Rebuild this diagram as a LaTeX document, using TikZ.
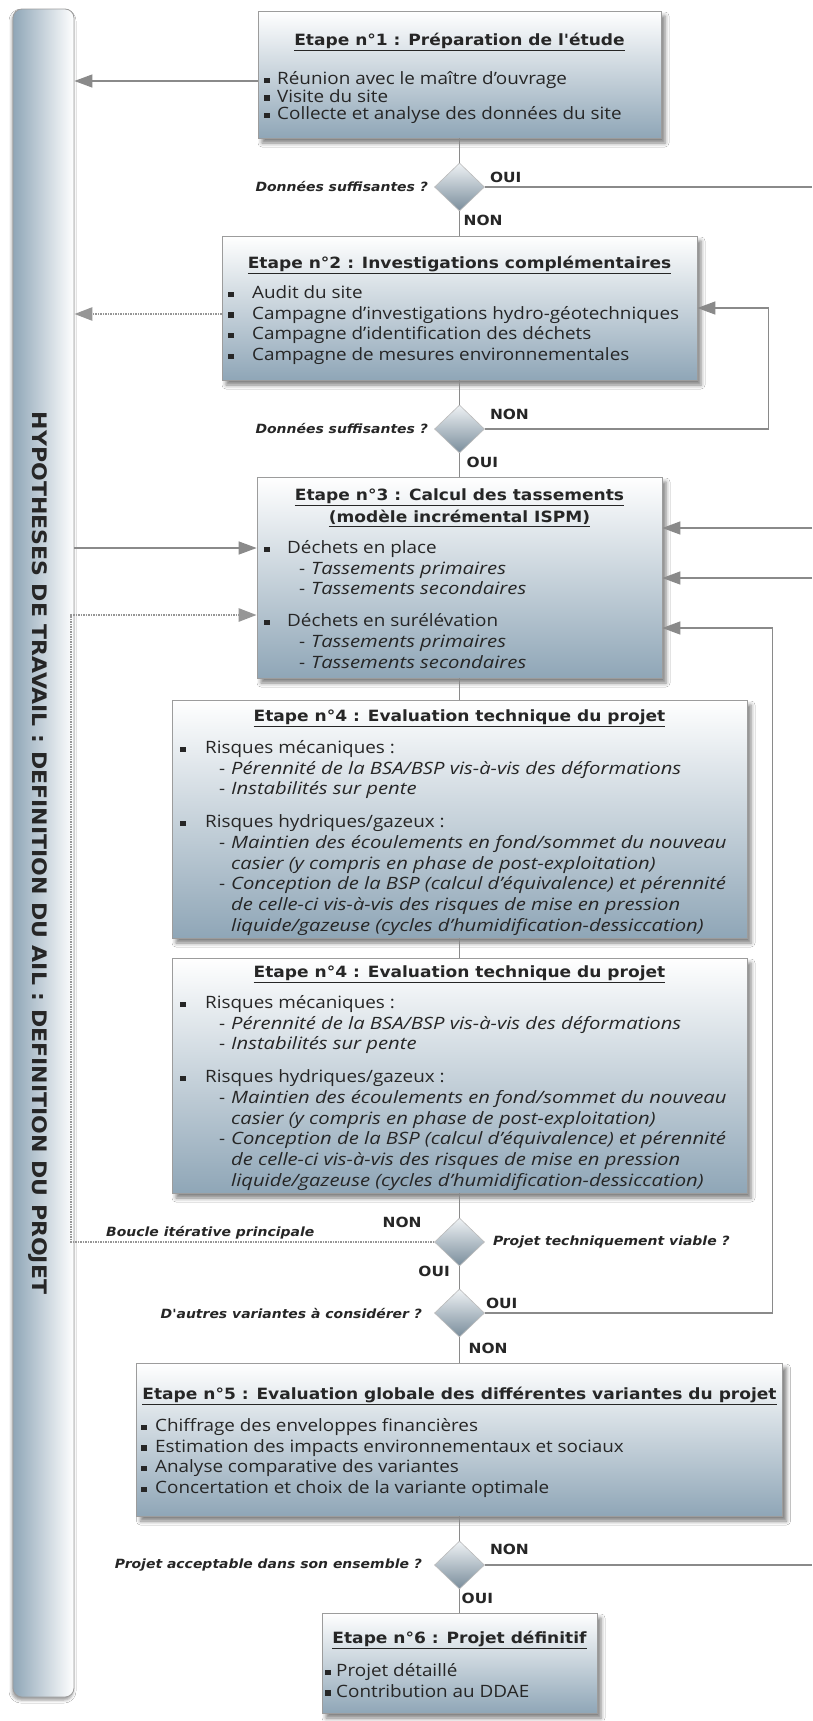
\documentclass[tikz,border=0pt]{standalone}
\usepackage{fontspec}
\setmainfont{Open Sans}[UprightFeatures={FakeStretch=1.11}, ItalicFeatures={FakeStretch=1.19}]
\newfontfamily\titrefont{DejaVu Sans}[FakeStretch=1.1, ItalicFont={DejaVu Sans Oblique}, BoldItalicFont={DejaVu Sans Bold Oblique}]
\usetikzlibrary{shapes.geometric, arrows.meta, positioning, calc, shadows.blur}
\definecolor{cbleu}{HTML}{8FA6B7}
\definecolor{cgris}{HTML}{8A8A8A}
\definecolor{cbord}{HTML}{9C9C9C}
\definecolor{ctexte}{HTML}{262626}
\newcommand{\puce}[1][13pt]{\makebox[#1][l]{\rule[1.5pt]{5.5pt}{5.5pt}}}
\newcommand{\tiret}[1][39pt]{\hspace*{#1}\makebox[12pt][l]{-}}
\newcommand{\risques}{\puce[25pt]Risques mécaniques :\\
  \tiret\textit{Pérennité de la BSA/BSP vis-à-vis des déformations}\\
  \tiret\textit{Instabilités sur pente}\\[12pt]
  \puce[25pt]Risques hydriques/gazeux :\\
  \tiret\textit{Maintien des écoulements en fond/sommet du nouveau}\\
  \hspace*{51pt}\textit{casier (y compris en phase de post-exploitation)}\\
  \tiret\textit{Conception de la BSP (calcul d'équivalence) et pérennité}\\
  \hspace*{51pt}\textit{de celle-ci vis-à-vis des risques de mise en pression}\\
  \hspace*{51pt}\textit{liquide/gazeuse (cycles d'humidification-dessiccation)}}
\tikzset{
  etape/.style={rectangle, draw=cbord, line width=0.7pt, top color=white, bottom color=cbleu, inner sep=0pt,
                blur shadow={shadow xshift=4pt, shadow yshift=-5pt, shadow blur radius=4pt, shadow opacity=50}},
  barre/.style={rectangle, rounded corners=9pt, draw=cbord, line width=0.8pt, left color=cbleu, right color=white,
                minimum width=61pt, minimum height=1688pt, inner sep=0pt,
                blur shadow={shadow xshift=-1pt, shadow yshift=-3pt, shadow blur radius=3pt, shadow opacity=40}},
  losange/.style={diamond, draw=cbord!70, line width=0.6pt, top color=white!85!cbleu, bottom color=cbleu!85!black,
                  minimum width=50pt, minimum height=48pt, inner sep=0pt},
  titre/.style={font=\titrefont\bfseries\fontsize{15.5}{22}\selectfont, text=ctexte, inner sep=0pt, align=center, anchor=base},
  liste/.style={font=\fontsize{17}{20.7}\selectfont, text=ctexte, inner sep=0pt, align=left, anchor=base west},
  bandeau/.style={font=\titrefont\bfseries\fontsize{20}{22}\selectfont, text=ctexte, inner sep=0pt},
  question/.style={font=\titrefont\bfseries\itshape\fontsize{12.7}{14}\selectfont, text=ctexte, inner sep=0pt},
  reponse/.style={font=\titrefont\bfseries\fontsize{14}{16}\selectfont, text=ctexte, inner sep=0pt},
  lien/.style={draw=cgris, line width=1.3pt},
  fleche/.style={lien, -{Triangle[length=18pt, width=13pt]}},
  pointille/.style={draw=cgris!90, line width=2.6pt, dash pattern=on 1.5pt off 1pt},
}

\begin{document}
\begin{tikzpicture}[x=1pt, y=-1pt]
  \fill[white] (0,0) rectangle (812,1721);
  \useasboundingbox (0,0) rectangle (812,1721);

  % bandeau vertical
  \node[barre] (barre) at (43.5,853) {};
  \node[bandeau, rotate=-90] (hypo) at ([xshift=-6pt]barre.center) {HYPOTHESES DE TRAVAIL : DEFINITION DU AIL : DEFINITION DU PROJET};

  % etapes (listes ancrees sur leur derniere ligne)
  \node[etape, minimum width=403pt, minimum height=127pt] (e1) at (459.5,74.5) {};
  \node[titre] (e1t) at (459.5,45.5) {\underline{Etape n°1 : Préparation de l'étude}};
  \node[liste, font=\fontsize{17}{17.5}\selectfont] (e1l) at (264,119.5) {\puce Réunion avec le maître d’ouvrage\\
    \puce Visite du site\\ \puce Collecte et analyse des données du site};

  \node[etape, minimum width=475pt, minimum height=144pt] (e2) at (459.5,308) {};
  \node[titre] (e2t) at (459.5,268.5) {\underline{Etape n°2 : Investigations complémentaires}};
  \node[liste] (e2l) at (228,360.6) {\puce[24pt]Audit du site\\
    \puce[24pt]Campagne d’investigations hydro-géotechniques\\
    \puce[24pt]Campagne d'identification des déchets\\
    \puce[24pt]Campagne de mesures environnementales};

  \node[etape, minimum width=405pt, minimum height=201pt] (e3) at (459.5,577.5) {};
  \node[titre] (e3t) at (459.5,522.5) {\underline{Etape n°3 : Calcul des tassements}\\\underline{(modèle incrémental ISPM)}};
  \node[liste] (e3l) at (264,668) {\puce[23pt]Déchets en place\\
    \tiret[35pt]\textit{Tassements primaires}\\ \tiret[35pt]\textit{Tassements secondaires}\\[11pt]
    \puce[23pt]Déchets en surélévation\\
    \tiret[35pt]\textit{Tassements primaires}\\ \tiret[35pt]\textit{Tassements secondaires}};

  \node[etape, minimum width=575pt, minimum height=238pt] (e4a) at (459.5,819) {};
  \node[titre] (e4at) at (459.5,721.5) {\underline{Etape n°4 : Evaluation technique du projet}};
  \node[liste] (e4al) at (180,931.1) {\risques};

  \node[etape, minimum width=575pt, minimum height=235pt] (e4b) at (459.5,1075.5) {};
  \node[titre] (e4bt) at (459.5,977.5) {\underline{Etape n°4 : Evaluation technique du projet}};
  \node[liste] (e4bl) at (180,1186.1) {\risques};

  \node[etape, minimum width=646pt, minimum height=153pt] (e5) at (459.5,1439.5) {};
  \node[titre] (e5t) at (459.5,1399.5) {\underline{Etape n°5 : Evaluation globale des différentes variantes du projet}};
  \node[liste] (e5l) at (141,1493.6) {\puce[14pt]Chiffrage des enveloppes financières\\
    \puce[14pt]Estimation des impacts environnementaux et sociaux\\
    \puce[14pt]Analyse comparative des variantes\\
    \puce[14pt]Concertation et choix de la variante optimale};

  \node[etape, minimum width=275pt, minimum height=100pt] (e6) at (459.5,1663) {};
  \node[titre] (e6t) at (459.5,1643.5) {\underline{Etape n°6 : Projet définitif}};
  \node[liste] (e6l) at (325,1697.2) {\puce[11pt]Projet détaillé\\ \puce[11pt]Contribution au DDAE};

  % tests
  \node[losange] (d1) at (459.5,187) {};
  \node[losange] (d2) at (459.5,429) {};
  \node[losange] (d3) at (459.5,1242) {};
  \node[losange] (d4) at (459.5,1313) {};
  \node[losange] (d5) at (459.5,1565) {};

  \node[question, left=6pt of d1.west] (q1) {Données suffisantes ?};
  \node[reponse, above right=4pt and 5pt of d1.east] (oui1) {OUI};
  \node[reponse, below right=4pt and 4pt of d1.south] (non1) {NON};
  \node[question, left=6pt of d2.west] (q2) {Données suffisantes ?};
  \node[reponse, above right=9.5pt and 5pt of d2.east] (non2) {NON};
  \node[reponse, below right=4pt and 7pt of d2.south] (oui2) {OUI};
  \node[reponse, above left=14.5pt and 12.5pt of d3.west] (non3) {NON};
  \node[question, right=8pt of d3.east] (q3) {Projet techniquement viable ?};
  \node[reponse, below left=0pt and 9.5pt of d3.south] (oui3) {OUI};
  \node[reponse, above right=4.5pt and 1pt of d4.east] (oui4) {OUI};
  \node[question, left=12pt of d4.west] (q4) {D'autres variantes à considérer ?};
  \node[reponse, below right=6pt and 9pt of d4.south] (non4) {NON};
  \node[question, left=12pt of d5.west] (q5) {Projet acceptable dans son ensemble ?};
  \node[reponse, above right=10pt and 5pt of d5.east] (non5) {NON};
  \node[reponse, below right=4pt and 2pt of d5.south] (oui5) {OUI};

  % axe principal
  \draw[lien] (e1) -- (d1);
  \draw[lien] (d1) -- (e2);
  \draw[lien] (e2) -- (d2);
  \draw[lien] (d2) -- (e3);
  \draw[lien] (e3) -- (e4a);
  \draw[lien] (e4a) -- (e4b);
  \draw[lien] (e4b) -- (d3);
  \draw[lien] (d3) -- (d4);
  \draw[lien] (d4) -- (e5);
  \draw[lien] (e5) -- (d5);
  \draw[lien] (d5) -- (e6);

  % liaisons avec le bandeau
  \draw[fleche] (e1.west |- 0,81) -- (barre.east |- 0,81);
  \draw[fleche, pointille] (e2.west |- 0,314) -- (barre.east |- 0,314);
  \draw[fleche] (barre.east |- 0,548) -- (e3.west |- 0,548);
  \coordinate (coin) at (71,615);
  \draw[fleche, pointille] (d3.west) -| (coin) -- (e3.west |- coin);
  \node[question, above right=3pt and 35pt of coin |- d3.west] (boucle) {Boucle itérative principale};

  % retours
  \coordinate (sortieA) at (812,187);
  \coordinate (sortieB) at (812,1565);
  \coordinate (retourA) at (812,528);
  \coordinate (retourB) at (812,578);
  \draw[lien] (d1.east) -- (sortieA);
  \draw[lien] (d5.east) -- (sortieB);
  \draw[fleche] (retourA) -- (e3.east |- retourA);
  \draw[fleche] (retourB) -- (e3.east |- retourB);
  \draw[fleche] (d2.east) -- ++(283.5,0) |- (e2.east);
  \draw[fleche] (d4.east) -- ++(287.5,0) |- (e3.east |- 0,628);
\end{tikzpicture}
\end{document}
